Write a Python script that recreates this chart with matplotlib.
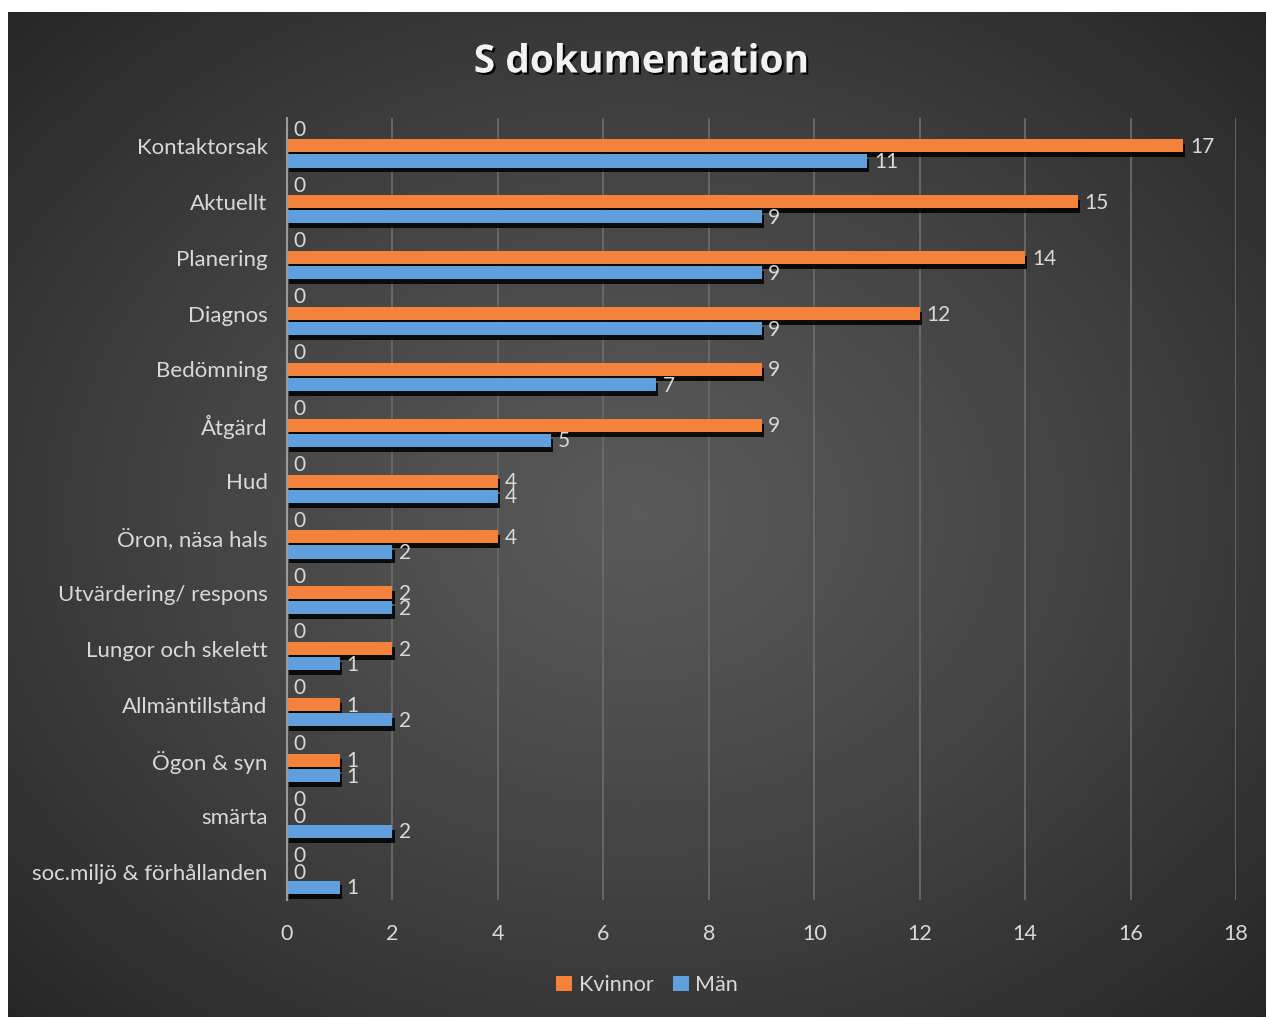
import matplotlib
matplotlib.use("Agg")
import matplotlib.pyplot as plt
import matplotlib.patheffects as pe
from matplotlib.patches import Patch
import numpy as np

categories = ["Kontaktorsak", "Aktuellt", "Planering", "Diagnos", "Bedömning",
              "Åtgärd", "Hud", "Öron, näsa hals", "Utvärdering/ respons",
              "Lungor och skelett", "Allmäntillstånd", "Ögon & syn", "smärta",
              "soc.miljö & förhållanden"]
kvinnor = [17, 15, 14, 12, 9, 9, 4, 4, 2, 2, 1, 1, 0, 0]
man = [11, 9, 9, 9, 7, 5, 4, 2, 2, 1, 2, 1, 2, 1]
hidden = [0] * len(categories)   # third (empty) series, only its labels show
xticks = np.arange(0, 19, 2)

plt.rcParams.update({
    'font.family': ['Lato', 'DejaVu Sans'],
    'font.size': 13,
    'text.color': '#d9d9d9',
    'xtick.color': '#d9d9d9',
    'ytick.color': '#d9d9d9',
})

W, H = 1266, 1017
fig = plt.figure(figsize=(W / 100, H / 100), dpi=100, facecolor='white')

# dark radial background
bg = fig.add_axes([8 / W, 0, (W - 8) / W, (H - 12) / H])
bg.set_axis_off()
gx, gy = np.meshgrid(np.linspace(-1, 1, 400), np.linspace(-1, 1, 320))
r = np.sqrt(gx ** 2 + gy ** 2) / np.sqrt(2)
shade = 0.35 - 0.20 * np.clip(r, 0, 1) ** 1.2
bg.imshow(np.dstack([shade] * 3), aspect='auto', extent=[0, 1, 0, 1],
          interpolation='bicubic')

ax = fig.add_axes([287 / W, 1 - 900 / H, (1236 - 287) / W, (900 - 118) / H])
ax.patch.set_alpha(0)

y = np.arange(len(categories))
step = 0.27
bh = 0.235
orange, blue = '#f4823b', '#5e9fdc'
shadow = [pe.SimplePatchShadow(offset=(1.5, -3.5), shadow_rgbFace='black', alpha=0.85),
          pe.Normal()]

ax.barh(y - step, hidden, height=bh, color='#a5a5a5')
ax.barh(y, kvinnor, height=bh, color=orange, path_effects=shadow)
ax.barh(y + step, man, height=bh, color=blue, path_effects=shadow)

lab_kw = dict(va='center', ha='left', fontsize=15, color='#d9d9d9')
for i in range(len(categories)):
    ax.text(hidden[i] + 0.13, y[i] - step - 0.02, f"{hidden[i]}", **lab_kw)
    ax.text(kvinnor[i] + 0.13, y[i] + 0.02, f"{kvinnor[i]}", **lab_kw)
    ax.text(man[i] + 0.13, y[i] + step + 0.02, f"{man[i]}", **lab_kw)

ax.set_xlim(0, 18)
ax.set_ylim(len(categories) - 0.5, -0.5)
ax.set_xticks(xticks)
ax.set_yticks(y)
ax.set_yticklabels(categories, fontsize=16)
ax.tick_params(axis='both', length=0)
ax.tick_params(axis='x', labelsize=15.5, pad=17)
ax.tick_params(axis='y', pad=14)
ax.grid(axis='x', color='#6a6a6a', linewidth=1.3)
ax.set_axisbelow(True)
for s in ['top', 'right', 'bottom']:
    ax.spines[s].set_visible(False)
ax.spines['left'].set_color('#9a9a9a')
ax.spines['left'].set_linewidth(1.5)

fig.text(641 / W, 1 - 62 / H, "S dokumentation", ha='center', va='center',
         fontsize=28, fontweight='bold', color='#f2f2f2',
         family=['Open Sans', 'DejaVu Sans'],
         path_effects=[pe.withSimplePatchShadow(offset=(1.5, -1.5),
                                                shadow_rgbFace='black', alpha=0.9)])

handles = [Patch(facecolor=orange), Patch(facecolor=blue)]
leg = fig.legend(handles=handles, labels=['Kvinnor', 'Män'], loc='center',
                 bbox_to_anchor=(647 / W, 1 - 985 / H), ncol=2, frameon=False,
                 fontsize=15.5, handlelength=0.75, handleheight=0.75,
                 handletextpad=0.3, columnspacing=0.9)
for t in leg.get_texts():
    t.set_color('#d9d9d9')

fig.savefig('out.png', dpi=100, facecolor='white')
